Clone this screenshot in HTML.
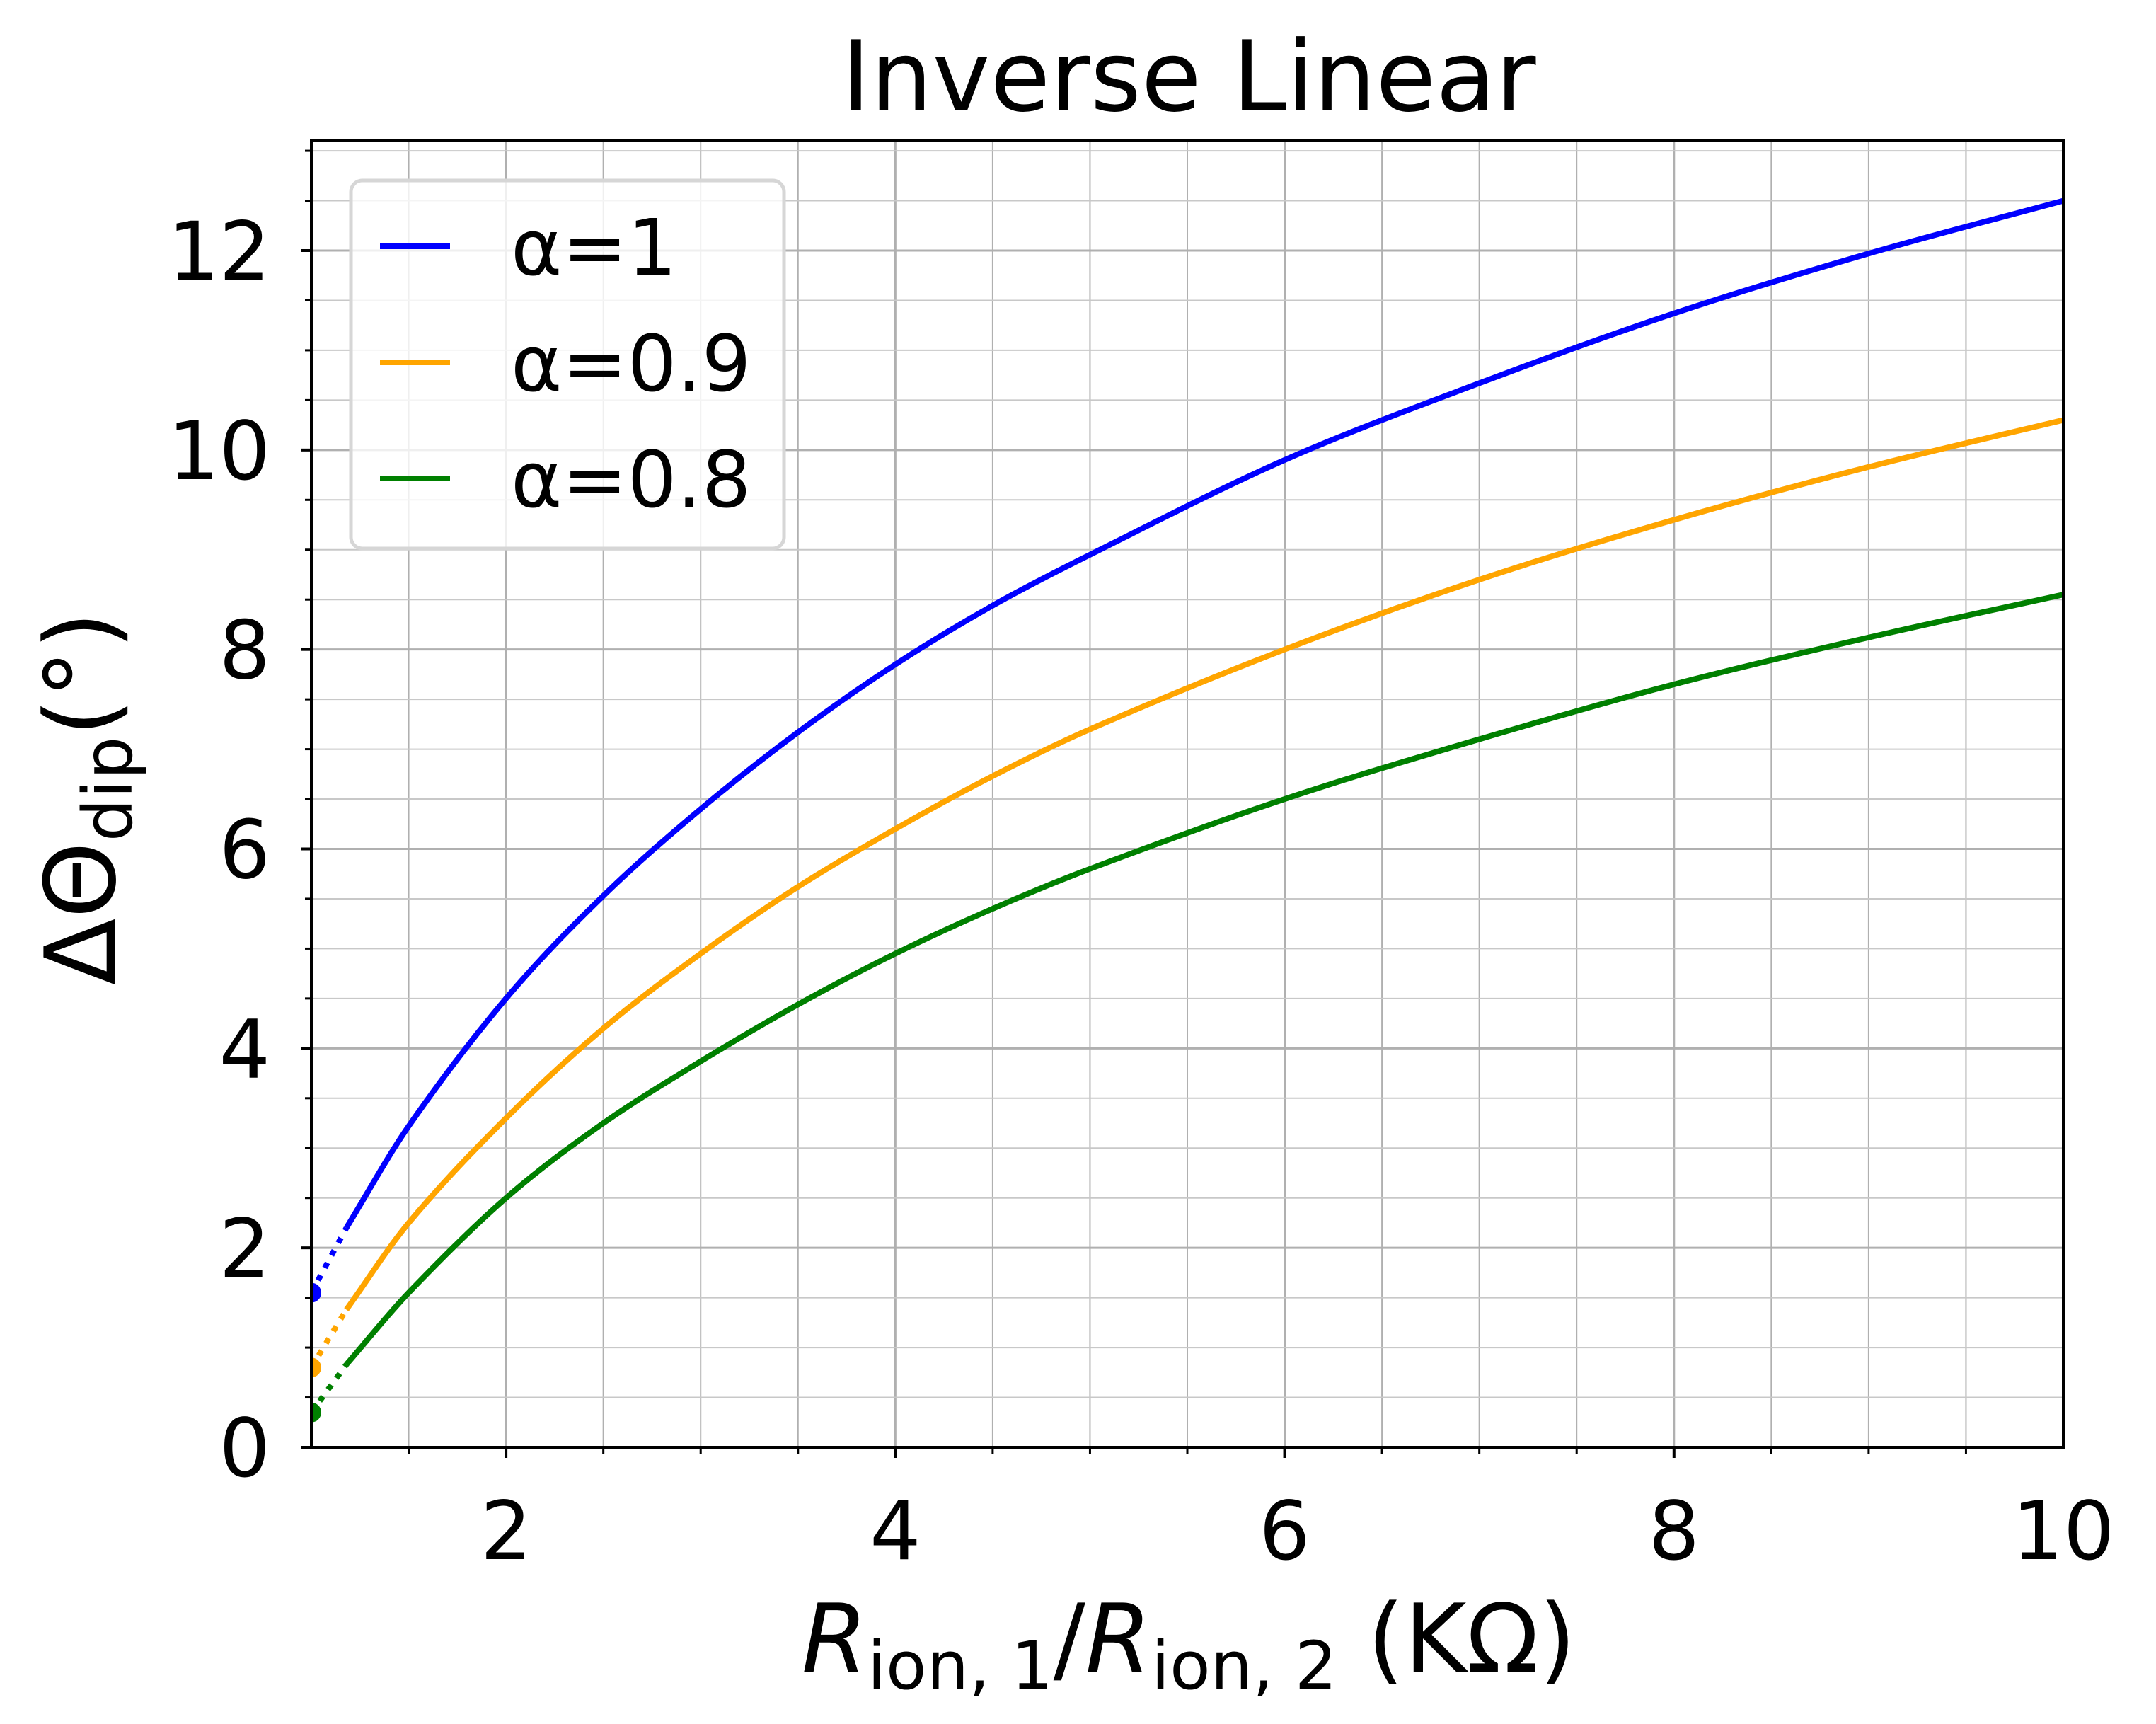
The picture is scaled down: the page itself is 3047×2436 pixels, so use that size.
<!DOCTYPE html>
<html><head><meta charset="utf-8">
<style>
html,body{margin:0;padding:0;background:#fff;}
svg{display:block;font-family:"DejaVu Sans","Liberation Sans",sans-serif;}
</style></head>
<body>
<svg id="chart" width="3047" height="2436" viewBox="0 0 3047 2436" xmlns="http://www.w3.org/2000/svg">
<defs><clipPath id="plotclip"><rect x="440" y="199" width="2476" height="1846"/></clipPath></defs>
<rect width="3047" height="2436" fill="#fff"/>
<g id="grid"></g>
<g id="series" clip-path="url(#plotclip)"></g>
<g id="axes"></g>
<text x="1680" y="156" font-size="138" text-anchor="middle">Inverse Linear</text>
<text x="1680" y="2362" font-size="134" text-anchor="middle"><tspan font-style="italic">R</tspan><tspan font-size="94" dy="24">ion, 1</tspan><tspan dy="-24">/</tspan><tspan font-style="italic">R</tspan><tspan font-size="94" dy="24">ion, 2</tspan><tspan dy="-24"> (KΩ)</tspan></text>
<text transform="translate(162,1128) rotate(-90)" font-size="138" text-anchor="middle">ΔΘ<tspan font-size="96" dy="24">dip</tspan><tspan dy="-24">(°)</tspan></text>
<g>
<rect x="496" y="255" width="612" height="520" rx="16" fill="#fff" fill-opacity="0.8" stroke="#d6d6d6" stroke-width="5"/>
<g><line x1="537" y1="348" x2="636" y2="348" stroke="#0000ff" stroke-width="8"/><text x="722" y="388" font-size="110">α=1</text></g>
<g><line x1="537" y1="512" x2="636" y2="512" stroke="#ffa500" stroke-width="8"/><text x="722" y="552" font-size="110">α=0.9</text></g>
<g><line x1="537" y1="676" x2="636" y2="676" stroke="#008000" stroke-width="8"/><text x="722" y="716" font-size="110">α=0.8</text></g>
</g>
</svg>
<script>
const xValues = [1.18, 1.5, 2, 2.5, 3, 3.5, 4, 4.5, 5, 6, 7, 8, 9, 10];
const blueValues = [2.2, 3.22, 4.5, 5.53, 6.4, 7.17, 7.85, 8.44, 8.95, 9.9, 10.67, 11.37, 11.97, 12.5];
const orangeValues = [1.38, 2.25, 3.3, 4.2, 4.95, 5.62, 6.2, 6.73, 7.2, 8.0, 8.7, 9.3, 9.83, 10.3];
const greenValues = [0.83, 1.55, 2.5, 3.25, 3.87, 4.44, 4.95, 5.4, 5.8, 6.5, 7.1, 7.65, 8.12, 8.55];
const startX = 1.0;
const startValues = [1.55, 0.8, 0.35];
const xTicks = [2, 4, 6, 8, 10];
const yTicks = [0, 2, 4, 6, 8, 10, 12];

const L = 440, R = 2916, T = 199, B = 2045;
const xMin = 1, xMax = 10, yMin = 0, yMax = 13.1;
const sx = v => L + (v - xMin) / (xMax - xMin) * (R - L);
const sy = v => B - (v - yMin) / (yMax - yMin) * (B - T);
const NS = "http://www.w3.org/2000/svg";
function mk(tag, attrs, parent) {
  const e = document.createElementNS(NS, tag);
  for (const k in attrs) e.setAttribute(k, attrs[k]);
  parent.appendChild(e);
  return e;
}
const grid = document.getElementById('grid');
const axes = document.getElementById('axes');
const series = document.getElementById('series');

for (let v = 1.5; v < 10; v += 0.5) {
  const major = Math.abs(v - Math.round(v / 2) * 2) < 1e-9;
  const g = mk('line', {x1: sx(v), x2: sx(v), y1: T, y2: B, stroke: '#b0b0b0', 'stroke-width': major ? 3 : 2}, grid);
  
  
  const t = mk('line', {x1: sx(v), x2: sx(v), y1: B, y2: B + (major ? 15 : 9), stroke: '#000', 'stroke-width': major ? 4 : 3}, axes);
  
  
}
for (let v = 0.5; v <= 13; v += 0.5) {
  const major = Math.abs(v - Math.round(v / 2) * 2) < 1e-9;
  const g = mk('line', {x1: L, x2: R, y1: sy(v), y2: sy(v), stroke: major ? '#b0b0b0' : '#c8c8c8', 'stroke-width': major ? 3 : 2}, grid);
  
  
}
for (let v = 0; v <= 13; v += 0.5) {
  const major = Math.abs(v - Math.round(v / 2) * 2) < 1e-9;
  const t = mk('line', {x1: L - (major ? 15 : 9), x2: L, y1: sy(v), y2: sy(v), stroke: '#000', 'stroke-width': major ? 4 : 3}, axes);
  
  
}
xTicks.forEach(v => {
  const t = mk('text', {x: sx(v), y: B + 158, 'font-size': 114, 'text-anchor': 'middle'}, axes);
  t.textContent = v;
  
  
});
yTicks.forEach(v => {
  const t = mk('text', {x: L - 58, y: sy(v) + 41, 'font-size': 114, 'text-anchor': 'end'}, axes);
  t.textContent = v;
  
  
});
const spine = mk('rect', {x: L, y: T, width: R - L, height: B - T, fill: 'none', stroke: '#000', 'stroke-width': 4}, axes);



function smoothPath(xs, ys) {
  const n = xs.length, m = [];
  for (let i = 0; i < n; i++) {
    if (i === 0) m.push((ys[1] - ys[0]) / (xs[1] - xs[0]));
    else if (i === n - 1) m.push((ys[n - 1] - ys[n - 2]) / (xs[n - 1] - xs[n - 2]));
    else m.push((ys[i + 1] - ys[i - 1]) / (xs[i + 1] - xs[i - 1]));
  }
  let d = 'M' + sx(xs[0]) + ',' + sy(ys[0]);
  for (let i = 0; i < n - 1; i++) {
    const h = xs[i + 1] - xs[i];
    d += ' C' + sx(xs[i] + h / 3) + ',' + sy(ys[i] + m[i] * h / 3) + ' ' +
      sx(xs[i + 1] - h / 3) + ',' + sy(ys[i + 1] - m[i + 1] * h / 3) + ' ' +
      sx(xs[i + 1]) + ',' + sy(ys[i + 1]);
  }
  return d;
}
const allSeries = [['alpha-1', blueValues, '#0000ff', startValues[0]], ['alpha-0.9', orangeValues, '#ffa500', startValues[1]], ['alpha-0.8', greenValues, '#008000', startValues[2]]];
allSeries.forEach(([name, vals, col, sv]) => {
  const p = mk('path', {d: smoothPath(xValues, vals), fill: 'none', stroke: col, 'stroke-width': 8, 'stroke-linejoin': 'round'}, series);
  
  
  const dl = mk('line', {x1: sx(startX), y1: sy(sv), x2: sx(xValues[0]), y2: sy(vals[0]), stroke: col, 'stroke-width': 8, 'stroke-dasharray': '8 12'}, series);
  
  
  const c = mk('circle', {cx: sx(startX), cy: sy(sv), r: 14, fill: col}, series);
  
  
});
</script>
</body></html>
